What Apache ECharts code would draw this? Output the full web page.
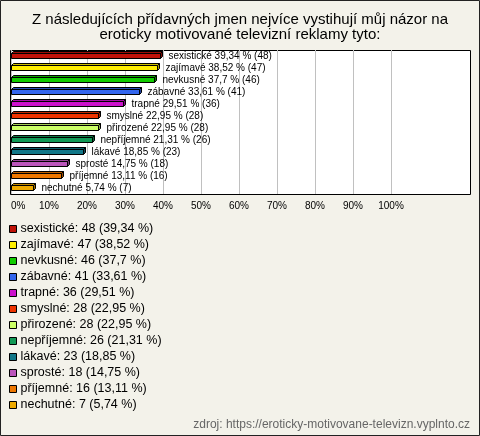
<!DOCTYPE html>
<html>
<head>
<meta charset="utf-8">
<script src="https://cdn.jsdelivr.net/npm/echarts@6/dist/echarts.min.js"></script>
<style>
  html, body { margin: 0; padding: 0; background: #f3f2ea; }
  #chart { width: 480px; height: 436px; }
</style>
</head>
<body>
<div id="chart"></div>
<script>
// --- data ---
const categories = ['sexistické', 'zajímavé', 'nevkusné', 'zábavné', 'trapné', 'smyslné', 'přirozené', 'nepříjemné', 'lákavé', 'sprosté', 'příjemné', 'nechutné']
const counts = [48, 47, 46, 41, 36, 28, 28, 26, 23, 18, 16, 7]
const percents = [39.34, 38.52, 37.7, 33.61, 29.51, 22.95, 22.95, 21.31, 18.85, 14.75, 13.11, 5.74]
const colors = ['#c01208', '#ffee00', '#11cc00', '#3366ee', '#cc11cc', '#ee3300', '#ccff66', '#119955', '#117788', '#bb55bb', '#ee7700', '#eeaa00']
const titleLines = ['Z následujících přídavných jmen nejvíce vystihují můj názor na', 'eroticky motivované televizní reklamy tyto:']

const fmt = v => String(v).replace('.', ',')
const font = '"Liberation Sans", Arial, sans-serif'
const depth = 2

// ztmavení barvy
const darken = (c, f) => {
  const a = echarts.color.parse(c)
  return `rgb(${Math.round(a[0] * f)},${Math.round(a[1] * f)},${Math.round(a[2] * f)})`
}

// 3D sloupec s popiskem vpravo
const renderBar = (params, api) => {
  const idx = api.value(1)
  const x0 = Math.round(api.coord([0, idx])[0]) + 0.5
  const p = api.coord([api.value(0), idx])
  const x1 = Math.round(p[0]) + 0.5
  const cy = Math.round(p[1]) - 0.5
  const c = api.visual('color')
  const line = { stroke: '#000', lineWidth: 1 }
  return {
    type: 'group',
    children: [
      { type: 'polygon', shape: { points: [[x0, cy - 2], [x0 + depth, cy - 2 - depth], [x1 + depth, cy - 2 - depth], [x1, cy - 2]] }, style: { fill: darken(c, 0.8), ...line } },
      { type: 'polygon', shape: { points: [[x1, cy - 2], [x1 + depth, cy - 2 - depth], [x1 + depth, cy + 3 - depth], [x1, cy + 3]] }, style: { fill: darken(c, 0.65), ...line } },
      { type: 'rect', shape: { x: x0, y: cy - 2, width: x1 - x0, height: 5 }, style: { fill: c, ...line } },
      { type: 'text', style: { text: `${categories[idx]} ${fmt(api.value(0))} % (${api.value(2)})`, x: x1 + depth + 6, y: cy + 0.5, verticalAlign: 'middle', fill: '#000', font: `10px ${font}` } }
    ]
  }
}

const chart = echarts.init(document.getElementById('chart'))
chart.setOption({
  backgroundColor: '#f3f2ea',
  animation: false,
  title: [
    ...titleLines.map((t, i) => ({
      text: t, left: 'center', top: 12 + i * 15, padding: 0,
      textStyle: { fontSize: 15, fontWeight: 'normal', color: '#000', fontFamily: font }
    })),
    {
      text: 'zdroj: https://eroticky-motivovane-televizn.vyplnto.cz',
      right: 10, bottom: 5, padding: 0,
      textStyle: { fontSize: 12, fontWeight: 'normal', color: '#666', fontFamily: font }
    }
  ],
  graphic: [
    { type: 'rect', z: -10, shape: { x: 0.5, y: 0.5, width: 479, height: 435 }, style: { fill: 'none', stroke: '#222', lineWidth: 1 } },
    { type: 'rect', z: -10, shape: { x: 10.5, y: 50.5, width: 460, height: 144 }, style: { fill: '#fff', stroke: '#000', lineWidth: 1 } }
  ],
  legend: {
    orient: 'vertical', left: 9, top: 222, padding: 0,
    itemWidth: 7, itemHeight: 7, itemGap: 2, icon: 'rect',
    selectedMode: false,
    itemStyle: { borderColor: '#000', borderWidth: 1 },
    textStyle: { fontSize: 12.5, lineHeight: 14, color: '#000', fontFamily: font, padding: [0, 0, 0, -1] },
    data: categories,
    formatter: name => {
      const i = categories.indexOf(name)
      return `${name}: ${counts[i]} (${fmt(percents[i])} %)`
    }
  },
  grid: { left: 11, right: 89, top: 50, bottom: 242 },
  xAxis: {
    type: 'value', min: 0, max: 100, interval: 10,
    axisLine: { show: false }, axisTick: { show: false },
    splitLine: { show: true, lineStyle: { color: '#c0c0c0', width: 1 } },
    axisLabel: { formatter: '{value}%', fontSize: 10, color: '#000', margin: 7, fontFamily: font, alignMinLabel: 'left' }
  },
  yAxis: { type: 'category', inverse: true, data: categories.map((_, i) => i), show: false },
  series: categories.map((name, i) => ({
    name,
    type: 'custom',
    itemStyle: { color: colors[i] },
    encode: { x: 0, y: 1 },
    renderItem: renderBar,
    data: [[percents[i], i, counts[i]]]
  }))
})
</script>
</body>
</html>
